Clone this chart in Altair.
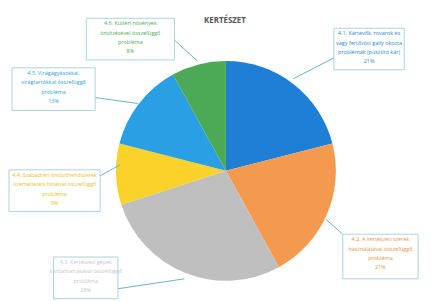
import altair as alt
import pandas as pd

title = "KERTÉSZET"
categories = ["4.1", "4.2", "4.3", "4.4", "4.5", "4.6"]
label_lines = [
    ["4.1. Kártevők, rovarok és", "vagy fertőzött gally okozta", "problémák (pusztító kár)"],
    ["4.2. A kertészeti szerek", "használatával összefüggő", "probléma"],
    ["4.3. Kertészeti gépek", "karbantartásával összefüggő", "probléma"],
    ["4.4. Szabadtéri öntözőrendszerek", "üzemeltetési hibáival összefüggő", "probléma"],
    ["4.5. Virágágyásokkal,", "virágtartókkal összefüggő", "probléma"],
    ["4.6. Kültéri növények", "öntözésével összefüggő", "probléma"],
]
values = [21, 21, 28, 9, 13, 8]

slice_colors = ["#1f7fd6", "#f39a4f", "#bfbfbf", "#fbd22a", "#2a9fe4", "#4caa57"]
text_colors = ["#2a86d8", "#f0903f", "#c4c8cc", "#e8c21a", "#2a9fe4", "#4caa57"]

# layout (image pixel coordinates): callout boxes and leader lines
boxes = [(333, 27, 404, 69), (342, 235, 418, 280), (50, 258, 115, 300),
         (5, 170, 97, 212), (8, 67, 92, 110), (83, 17, 172, 59)]
leaders = [(333, 57, 292, 78), (342, 235, 325, 220), (115, 290, 182, 280),
           (97, 176, 117, 165), (92, 97, 135, 103), (172, 39, 195, 60)]

pie_df = pd.DataFrame({"cat": categories, "value": values, "order": list(range(6))})

lab_rows = []
for i, c in enumerate(categories):
    x1, y1, x2, y2 = boxes[i]
    lx1, ly1, lx2, ly2 = leaders[i]
    lab_rows.append({
        "cat": c,
        "text": "\n".join(label_lines[i] + [f"{values[i]}%"]),
        "bx1": x1, "by1": y1, "bx2": x2, "by2": y2,
        "tx": (x1 + x2) / 2, "ty": y1 + 3,
        "lx1": lx1, "ly1": ly1, "lx2": lx2, "ly2": ly2,
    })
lab_df = pd.DataFrame(lab_rows)

W, H = 420, 285
xs = alt.Scale(domain=[8, 8 + W], range=[0, W])
ys = alt.Scale(domain=[8, 8 + H], range=[0, H])
color_scale = alt.Scale(domain=categories, range=slice_colors)
tcolor_scale = alt.Scale(domain=categories, range=text_colors)

pie = alt.Chart(pie_df).mark_arc(outerRadius=111, x=216, y=163).encode(
    theta=alt.Theta("value:Q", stack=True),
    color=alt.Color("cat:N", scale=color_scale, legend=None),
    order=alt.Order("order:Q"),
)

base = alt.Chart(lab_df)
lines = base.mark_rule(color="#5aa7c8", strokeWidth=0.9).encode(
    x=alt.X("lx1:Q", scale=xs, axis=None),
    y=alt.Y("ly1:Q", scale=ys, axis=None),
    x2="lx2:Q", y2="ly2:Q",
)
rects = base.mark_rect(fill="white", stroke="#a9d3e0", strokeWidth=1).encode(
    x=alt.X("bx1:Q", scale=xs, axis=None),
    y=alt.Y("by1:Q", scale=ys, axis=None),
    x2="bx2:Q", y2="by2:Q",
)
texts = base.mark_text(fontSize=5.5, lineHeight=9.5, baseline="top", align="center",
                       lineBreak="\n", font="Open Sans").encode(
    x=alt.X("tx:Q", scale=xs, axis=None),
    y=alt.Y("ty:Q", scale=ys, axis=None),
    text="text:N",
    color=alt.Color("cat:N", scale=tcolor_scale, legend=None),
)

title_df = pd.DataFrame({"t": [title], "x": [223], "y": [20]})
title_mark = alt.Chart(title_df).mark_text(fontSize=8, fontWeight="bold", color="#555555",
                                            font="Open Sans").encode(
    x=alt.X("x:Q", scale=xs, axis=None),
    y=alt.Y("y:Q", scale=ys, axis=None),
    text="t:N",
)

chart = alt.layer(pie, lines, rects, texts, title_mark).resolve_scale(color="independent").properties(
    width=W, height=H, padding=0, background="white"
).configure_view(stroke=None)

chart.save("out.html", embed_options={"renderer": "svg", "actions": False})
